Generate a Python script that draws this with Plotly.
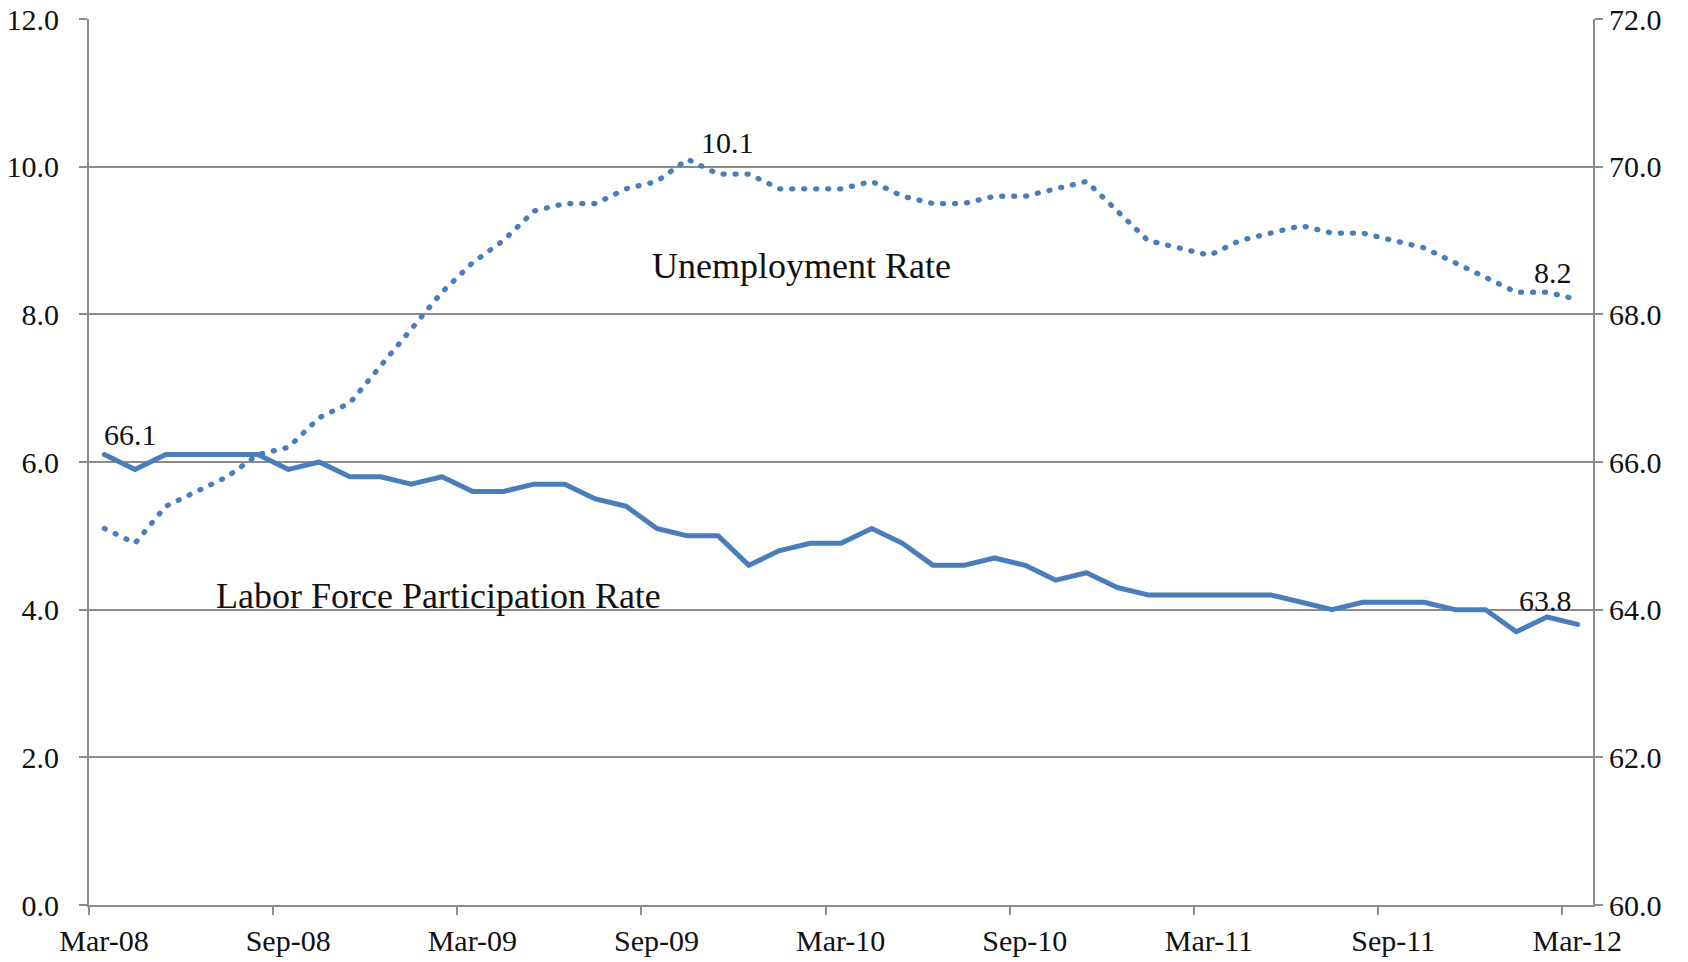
import plotly.graph_objects as go

months = ["Mar-08","Apr-08","May-08","Jun-08","Jul-08","Aug-08","Sep-08","Oct-08","Nov-08","Dec-08",
          "Jan-09","Feb-09","Mar-09","Apr-09","May-09","Jun-09","Jul-09","Aug-09","Sep-09","Oct-09","Nov-09","Dec-09",
          "Jan-10","Feb-10","Mar-10","Apr-10","May-10","Jun-10","Jul-10","Aug-10","Sep-10","Oct-10","Nov-10","Dec-10",
          "Jan-11","Feb-11","Mar-11","Apr-11","May-11","Jun-11","Jul-11","Aug-11","Sep-11","Oct-11","Nov-11","Dec-11",
          "Jan-12","Feb-12","Mar-12"]

unemployment = [5.1, 4.9, 5.4, 5.6, 5.8, 6.1, 6.2, 6.6, 6.8, 7.3,
                7.8, 8.3, 8.7, 9.0, 9.4, 9.5, 9.5, 9.7, 9.8, 10.1, 9.9, 9.9,
                9.7, 9.7, 9.7, 9.8, 9.6, 9.5, 9.5, 9.6, 9.6, 9.7, 9.8, 9.4,
                9.0, 8.9, 8.8, 9.0, 9.1, 9.2, 9.1, 9.1, 9.0, 8.9, 8.7, 8.5,
                8.3, 8.3, 8.2]

participation = [66.1, 65.9, 66.1, 66.1, 66.1, 66.1, 65.9, 66.0, 65.8, 65.8,
                 65.7, 65.8, 65.6, 65.6, 65.7, 65.7, 65.5, 65.4, 65.1, 65.0, 65.0, 64.6,
                 64.8, 64.9, 64.9, 65.1, 64.9, 64.6, 64.6, 64.7, 64.6, 64.4, 64.5, 64.3,
                 64.2, 64.2, 64.2, 64.2, 64.2, 64.1, 64.0, 64.1, 64.1, 64.1, 64.0, 64.0,
                 63.7, 63.9, 63.8]

tick_labels = ["Mar-08", "Sep-08", "Mar-09", "Sep-09", "Mar-10", "Sep-10", "Mar-11", "Sep-11", "Mar-12"]
left_ticks = [0, 2, 4, 6, 8, 10, 12]
right_ticks = [60, 62, 64, 66, 68, 70, 72]

idx = list(range(len(months)))
tick_pos = [months.index(t) - 0.5 for t in tick_labels]

BLUE = "#4a7ebb"
GRID = "#8c8c8c"
FONT = "Liberation Serif"
TXT = "#111111"

fig = go.Figure()
fig.add_trace(go.Scatter(x=idx, y=unemployment, mode="lines", name="Unemployment Rate",
                         line=dict(color=BLUE, width=5.3, dash="1px,11px"), yaxis="y"))
fig.add_trace(go.Scatter(x=idx, y=participation, mode="lines", name="Labor Force Participation Rate",
                         line=dict(color=BLUE, width=5), yaxis="y2"))

peak_i = unemployment.index(max(unemployment))
last = len(months) - 1
ann_font = dict(family=FONT, size=30, color=TXT)
annotations = [
    dict(x=0, y=participation[0], xref="x", yref="y2", text=f"{participation[0]:.1f}",
         showarrow=False, font=ann_font, xshift=26, yshift=20),
    dict(x=peak_i, y=unemployment[peak_i], xref="x", yref="y", text=f"{unemployment[peak_i]:.1f}",
         showarrow=False, font=ann_font, xshift=40, yshift=17),
    dict(x=last, y=unemployment[last], xref="x", yref="y", text=f"{unemployment[last]:.1f}",
         showarrow=False, font=ann_font, xshift=-25, yshift=27),
    dict(x=last, y=participation[last], xref="x", yref="y2", text=f"{participation[last]:.1f}",
         showarrow=False, font=ann_font, xshift=-32, yshift=24),
    dict(x=0.474, y=0.721, xref="paper", yref="paper", xanchor="center", yanchor="middle",
         text="Unemployment Rate", showarrow=False, font=dict(family=FONT, size=36, color=TXT)),
    dict(x=0.2327, y=0.3488, xref="paper", yref="paper", xanchor="center", yanchor="middle",
         text="Labor Force Participation Rate", showarrow=False, font=dict(family=FONT, size=36, color=TXT)),
]

axis_common = dict(zeroline=False, showline=True, linecolor=GRID, linewidth=2,
                   ticks="outside", ticklen=8, tickwidth=1.5, tickcolor=GRID,
                   tickfont=dict(family=FONT, size=30, color=TXT), automargin=False)

fig.update_layout(
    width=1688, height=962,
    margin=dict(l=89, r=95, t=19, b=57),
    paper_bgcolor="white", plot_bgcolor="white",
    showlegend=False,
    font=dict(family=FONT, size=30, color=TXT),
    annotations=annotations,
    xaxis=dict(range=[-0.5, len(months) - 0.5], tickmode="array", tickvals=tick_pos, ticktext=tick_labels,
               ticklabelshift=15, showgrid=False, **axis_common),
    yaxis=dict(range=[0, 12], tickmode="array", tickvals=left_ticks,
               ticktext=[f"{v:.1f}" for v in left_ticks], ticklabelstandoff=14,
               showgrid=True, gridcolor=GRID, gridwidth=2, **axis_common),
    yaxis2=dict(range=[60, 72], tickmode="array", tickvals=right_ticks,
                ticktext=[f"{v:.1f}" for v in right_ticks],
                overlaying="y", side="right", showgrid=False, **axis_common),
)

page_fix = ("document.body.style.margin='0';"
            "var s=document.createElement('style');"
            "s.innerHTML='body{margin:0;overflow:hidden;} .scatterlayer .js-line{stroke-linecap:round;stroke-linejoin:round;}';"
            "document.head.appendChild(s);")

fig.write_html("out.html", post_script=page_fix, config={"displayModeBar": False})
